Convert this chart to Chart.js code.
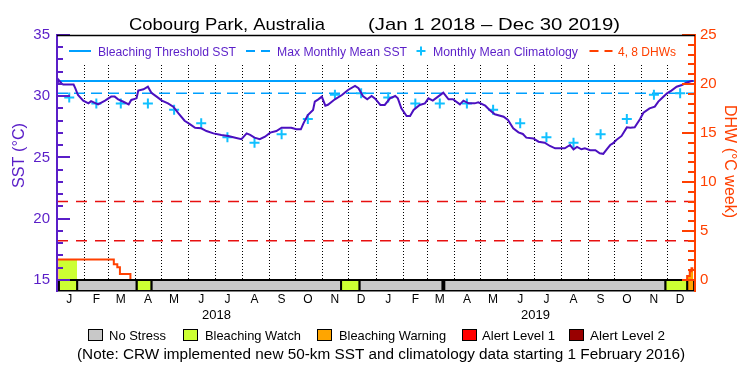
<!DOCTYPE html>
<html>
<head>
<meta charset="utf-8">
<script src="https://cdn.jsdelivr.net/npm/chart.js@4.4.0/dist/chart.umd.min.js"></script>
<style>
  html, body { margin: 0; padding: 0; background: #fff; }
  #wrap { width: 750px; height: 375px; }
</style>
</head>
<body>
<div id="wrap"><canvas id="chart" width="750" height="375"></canvas></div>
<script>
// x values are days counted from Jan 1 2018
const sstSeries = [
  [0, 31.1], [1, 31.4], [5, 31.06], [7, 30.96], [19, 30.96], [21, 30.65], [24, 30.1], [30, 29.64],
  [36, 29.42], [39, 29.6], [42, 29.5], [47, 29.34], [55, 29.64], [62, 29.97], [66, 29.97], [70, 29.75],
  [76, 29.55], [82, 29.34], [85, 29.7], [91, 29.83], [93, 30.46], [99, 30.57], [104, 30.78], [108, 30.29],
  [114, 29.97], [120, 29.64], [127, 29.42], [133, 29.15], [139, 28.6], [146, 28.0], [152, 27.73], [158, 27.43],
  [165, 27.38], [171, 27.16], [179, 26.97], [188, 26.84], [196, 26.76], [204, 26.62], [211, 26.49], [217, 26.97],
  [221, 26.84], [226, 26.62], [232, 26.49], [238, 26.7], [244, 27.03], [251, 27.16], [257, 27.43], [268, 27.43],
  [274, 27.3], [279, 27.3], [282, 27.79], [287, 28.47], [293, 28.88], [295, 29.56], [299, 29.75], [303, 29.97],
  [307, 29.23], [310, 29.3], [318, 29.75], [326, 30.1], [333, 30.51], [341, 30.84], [345, 30.65], [350, 30.02],
  [355, 29.75], [360, 30.02], [364, 29.8], [370, 29.29], [375, 29.29], [381, 29.83], [387, 30.02], [390, 29.83],
  [394, 29.01], [400, 28.39], [404, 28.39], [408, 28.88], [415, 29.29], [421, 29.42], [425, 29.83], [430, 29.64],
  [436, 29.97], [442, 30.29], [448, 29.75], [453, 29.75], [461, 29.34], [465, 29.64], [471, 29.42], [478, 29.42],
  [482, 29.5], [490, 29.23], [495, 28.88], [501, 28.53], [511, 28.33], [516, 28.06], [522, 27.38], [528, 27.05],
  [533, 26.92], [537, 26.62], [545, 26.55], [551, 26.29], [558, 26.21], [564, 25.94], [570, 25.75], [581, 25.75],
  [587, 26.02], [591, 25.67], [595, 25.86], [600, 25.67], [604, 25.75], [610, 25.6], [616, 25.6], [621, 25.34],
  [625, 25.3], [629, 25.67], [633, 26.02], [636, 26.15], [640, 26.43], [646, 26.76], [652, 27.46], [656, 27.43],
  [661, 27.46], [667, 28.12], [671, 28.66], [678, 29.01], [684, 29.15], [688, 29.56], [692, 29.83], [698, 30.24],
  [703, 30.46], [709, 30.78], [715, 30.92], [720, 31.1], [726, 31.24], [728, 31.24]
];

// monthly mean climatology, Jan..Dec (same both years)
const climValues = [29.9, 29.4, 29.4, 29.4, 28.9, 27.8, 26.65, 26.2, 26.9, 28.15, 30.13, 30.24];
const mmmValue = 30.25;
const thresholdValue = 31.25;

const dhwDays = [0, 65, 69, 72, 84, 721, 724, 726, 728];
const dhwValues = [2.1, 1.6, 1.3, 0.6, 0, 0.4, 0.9, 1.2, 1.2];
const dhwLevels = [4, 8];

// alert status strip: 0 no stress, 1 watch, 2 warning, 3 alert 1, 4 alert 2
const statusStart = [0, 2, 23, 91, 108, 325, 346, 441, 443, 696, 721];
const statusEnd = [2, 23, 91, 108, 325, 346, 441, 443, 696, 721, 729];
const statusLevel = [2, 1, 0, 1, 0, 1, 0, 1, 0, 1, 2];
const statusNames = ['No Stress', 'Bleaching Watch', 'Bleaching Warning', 'Alert Level 1', 'Alert Level 2'];

const monthStarts = [0, 31, 59, 90, 120, 151, 181, 212, 243, 273, 304, 334,
  365, 396, 424, 455, 485, 516, 546, 577, 608, 638, 669, 699, 730];
const monthLetters = ['J', 'F', 'M', 'A', 'M', 'J', 'J', 'A', 'S', 'O', 'N', 'D'];
const yearLabels = ['2018', '2019'];
const sstTicks = [15, 20, 25, 30, 35];
const dhwTicks = [0, 5, 10, 15, 20, 25];

const PURPLE = '#5a1ec8';
const LINE_PURPLE = '#4b10c0';
const BLUE = '#00a0ff';
const CROSS = '#10c0ff';
const ORANGE = '#ff4000';
const DHW_RED = '#e81010';
const STATUS_COLORS = ['#c8c8c8', '#ccff33', '#ffa500', '#ff0000', '#990000'];
const FONT = '"Liberation Sans", Arial, sans-serif';

const X_MAX = 730;
const Y_MIN = 14.102;
const Y2_MIN = -1.1224;

function dhwAt(day) {
  let v = 0;
  for (let i = 0; i < dhwDays.length; i++) if (dhwDays[i] <= day) v = dhwValues[i];
  return v;
}

const monthMid = monthStarts.slice(0, 24).map((d) => d + 14);
const yearMid = [0, 1].map((k) => (monthStarts[k * 12] + monthStarts[k * 12 + 12]) / 2);

// status strip rectangles
const stripSets = statusStart.map((s, i) => ({
  data: [{ x: s, y: Y_MIN }, { x: s, y: 15 }, { x: statusEnd[i], y: 15 }, { x: statusEnd[i], y: Y_MIN }],
  borderColor: '#000',
  borderWidth: 2,
  backgroundColor: STATUS_COLORS[statusLevel[i]],
  fill: { value: Y_MIN },
  pointRadius: 0,
}));

// DHW area coloured by alert status
const dhwLastDay = dhwDays[dhwDays.length - 1];
const dhwFillSets = [];
statusStart.forEach((s, i) => {
  if (statusLevel[i] === 0) return;
  const e = Math.min(statusEnd[i], dhwLastDay);
  const pts = [{ x: s, y: dhwAt(s) }];
  dhwDays.forEach((d, k) => { if (d > s && d < e) pts.push({ x: d, y: dhwValues[k] }); });
  pts.push({ x: e, y: dhwAt(e) });
  if (pts.every((p) => p.y === 0)) return;
  dhwFillSets.push({
    data: pts,
    yAxisID: 'y2',
    stepped: true,
    borderWidth: 0,
    backgroundColor: STATUS_COLORS[statusLevel[i]],
    fill: { value: 0 },
    pointRadius: 0,
  });
});

const climPoints = [];
for (let k = 0; k < 24; k++) climPoints.push({ x: monthMid[k], y: climValues[k % 12] });

const datasets = [
  ...stripSets,
  {
    label: 'SST',
    data: sstSeries.map(([d, v]) => ({ x: d, y: v })),
    borderColor: LINE_PURPLE,
    borderWidth: 2,
    pointRadius: 0,
    fill: false,
  },
  {
    label: 'Monthly Mean Climatology',
    data: climPoints,
    showLine: false,
    pointStyle: 'cross',
    pointRadius: 5,
    pointBorderWidth: 2,
    pointBorderColor: CROSS,
    borderColor: CROSS,
  },
  {
    label: 'Bleaching Threshold SST',
    data: [{ x: 0, y: thresholdValue }, { x: X_MAX, y: thresholdValue }],
    borderColor: BLUE,
    borderWidth: 2,
    pointRadius: 0,
  },
  {
    label: 'Max Monthly Mean SST',
    data: [{ x: 0, y: mmmValue }, { x: X_MAX, y: mmmValue }],
    borderColor: BLUE,
    borderWidth: 1.5,
    borderDash: [11, 6],
    pointRadius: 0,
  },
  {
    label: 'DHW',
    data: dhwDays.map((d, i) => ({ x: d, y: dhwValues[i] })),
    yAxisID: 'y2',
    stepped: true,
    borderColor: ORANGE,
    borderWidth: 2,
    pointRadius: 0,
  },
  ...dhwFillSets,
  ...dhwLevels.map((lv) => ({
    label: lv + ' DHW',
    data: [{ x: 0, y: lv }, { x: X_MAX, y: lv }],
    yAxisID: 'y2',
    borderColor: DHW_RED,
    borderWidth: 1.5,
    borderDash: [11, 8],
    pointRadius: 0,
  })),
];

function fitText(ctx, str, x, y, w, size, color) {
  ctx.save();
  ctx.font = size + 'px ' + FONT;
  ctx.fillStyle = color;
  ctx.textBaseline = 'alphabetic';
  ctx.textAlign = 'left';
  const m = ctx.measureText(str).width;
  ctx.translate(x, y);
  ctx.scale(w / m, 1);
  ctx.fillText(str, 0, 0);
  ctx.restore();
}

function rotText(ctx, str, cx, cy, len, size, color, angle) {
  ctx.save();
  ctx.font = size + 'px ' + FONT;
  ctx.fillStyle = color;
  ctx.textBaseline = 'alphabetic';
  const m = ctx.measureText(str).width;
  ctx.translate(cx, cy);
  ctx.rotate(angle);
  ctx.scale(len / m, 1);
  ctx.fillText(str, -m / 2, size * 0.36);
  ctx.restore();
}

function hLine(ctx, x1, x2, y, color, width, dash) {
  ctx.save();
  ctx.strokeStyle = color;
  ctx.lineWidth = width;
  ctx.setLineDash(dash || []);
  ctx.beginPath();
  ctx.moveTo(x1, y);
  ctx.lineTo(x2, y);
  ctx.stroke();
  ctx.restore();
}

const decorations = {
  id: 'decorations',
  beforeDatasetsDraw(chart) {
    // the legend box covers the top of the dotted month lines
    const { ctx, chartArea: a } = chart;
    ctx.save();
    ctx.fillStyle = '#fff';
    ctx.fillRect(a.left + 1, a.top + 1, a.right - a.left - 2, 27);
    ctx.restore();
  },
  afterDraw(chart) {
    const { ctx, chartArea: a, scales } = chart;

    // inward tick marks
    ctx.save();
    ctx.lineWidth = 2;
    ctx.strokeStyle = PURPLE;
    for (let v = 15; v <= 35; v++) {
      const py = Math.round(scales.y.getPixelForValue(v));
      const len = v % 5 === 0 ? 13 : 6;
      ctx.beginPath();
      ctx.moveTo(a.left, py);
      ctx.lineTo(a.left + len, py);
      ctx.stroke();
    }
    ctx.strokeStyle = ORANGE;
    for (let v = 0; v <= 25; v++) {
      const py = Math.round(scales.y2.getPixelForValue(v));
      const len = v % 5 === 0 ? 13 : 7;
      ctx.beginPath();
      ctx.moveTo(a.right, py);
      ctx.lineTo(a.right - len, py);
      ctx.stroke();
    }
    ctx.restore();

    // top frame
    hLine(ctx, a.left, a.right, a.top + 0.5, '#000', 1.5);

    // title
    fitText(ctx, 'Cobourg Park, Australia', 129, 30, 196, 17, '#000');
    fitText(ctx, '(Jan 1 2018 \u2013 Dec 30 2019)', 368, 30, 252, 17, '#000');

    // legend inside the plot
    const ly = 51;
    hLine(ctx, 69, 91, ly, BLUE, 2);
    fitText(ctx, 'Bleaching Threshold SST', 98, 55.5, 138, 12, PURPLE);
    hLine(ctx, 246, 270, ly, BLUE, 2, [9, 6]);
    fitText(ctx, 'Max Monthly Mean SST', 277, 55.5, 130, 12, PURPLE);
    hLine(ctx, 416.5, 425.5, ly, CROSS, 2);
    ctx.save();
    ctx.strokeStyle = CROSS;
    ctx.lineWidth = 2;
    ctx.beginPath();
    ctx.moveTo(421, ly - 4.5);
    ctx.lineTo(421, ly + 4.5);
    ctx.stroke();
    ctx.restore();
    fitText(ctx, 'Monthly Mean Climatology', 433, 55.5, 145, 12, PURPLE);
    hLine(ctx, 589.5, 612.5, ly, ORANGE, 2, [9, 6]);
    fitText(ctx, '4, 8 DHWs', 618, 55.5, 58, 12, ORANGE);

    // axis titles
    rotText(ctx, 'SST (\u00b0C)', 18, 155.5, 65, 17, PURPLE, -Math.PI / 2);
    rotText(ctx, 'DHW (\u00b0C week)', 731.5, 161.5, 113, 17, ORANGE, Math.PI / 2);

    // status legend
    const boxX = [88, 183, 317, 462, 569];
    const textX = [109, 205, 339, 482, 590];
    const textW = [57, 96, 107, 73, 75];
    statusNames.forEach((name, i) => {
      ctx.save();
      ctx.fillStyle = STATUS_COLORS[i];
      ctx.fillRect(boxX[i], 329, 14, 11);
      ctx.strokeStyle = '#000';
      ctx.lineWidth = 1;
      ctx.strokeRect(boxX[i] + 0.5, 329.5, 14, 11);
      ctx.restore();
      fitText(ctx, name, textX[i], 340, textW[i], 13, '#000');
    });
    fitText(ctx, '(Note: CRW implemented new 50-km SST and climatology data starting 1 February 2016)',
      77, 359, 608, 14, '#000');
  },
};

new Chart(document.getElementById('chart'), {
  type: 'line',
  data: { datasets },
  options: {
    responsive: false,
    animation: false,
    events: [],
    layout: { padding: { top: 35, bottom: 51, left: 0, right: 0 } },
    plugins: { legend: { display: false }, tooltip: { enabled: false }, title: { display: false } },
    scales: {
      x: {
        type: 'linear', position: 'bottom', min: 0, max: X_MAX, weight: 0,
        afterBuildTicks: (s) => { s.ticks = monthStarts.map((v) => ({ value: v })); },
        afterFit: (s) => { s.height = 0; },
        ticks: { display: false },
        grid: { color: '#000', lineWidth: 1, drawTicks: false },
        border: { display: false, dash: [1, 2] },
      },
      xm: {
        type: 'linear', position: 'bottom', min: 0, max: X_MAX, weight: 1,
        afterBuildTicks: (s) => { s.ticks = monthMid.map((v) => ({ value: v })); },
        afterFit: (s) => { s.height = 17; },
        ticks: {
          autoSkip: false, maxRotation: 0, padding: 1, color: '#000',
          font: { family: FONT, size: 12 },
          callback: (v, i) => monthLetters[i % 12],
        },
        grid: { display: false, drawTicks: false },
        border: { display: true, color: '#000', width: 1.5, z: 1 },
      },
      xy: {
        type: 'linear', position: 'bottom', min: 0, max: X_MAX, weight: 2,
        afterBuildTicks: (s) => { s.ticks = yearMid.map((v) => ({ value: v })); },
        afterFit: (s) => { s.height = 16; },
        ticks: {
          autoSkip: false, maxRotation: 0, padding: 0, color: '#000',
          font: { family: FONT, size: 13 },
          callback: (v, i) => yearLabels[i],
        },
        grid: { display: false, drawTicks: false },
        border: { display: false },
      },
      y: {
        type: 'linear', position: 'left', min: Y_MIN, max: 35,
        afterBuildTicks: (s) => { s.ticks = sstTicks.map((v) => ({ value: v })); },
        afterFit: (s) => { s.width = 57; },
        ticks: { color: PURPLE, padding: 7, font: { family: FONT, size: 15 } },
        grid: { display: false, drawTicks: false },
        border: { display: true, color: PURPLE, width: 2, z: 1 },
      },
      y2: {
        type: 'linear', position: 'right', min: Y2_MIN, max: 25,
        afterBuildTicks: (s) => { s.ticks = dhwTicks.map((v) => ({ value: v })); },
        afterFit: (s) => { s.width = 55; },
        ticks: { color: ORANGE, padding: 5, font: { family: FONT, size: 15 } },
        grid: { display: false, drawTicks: false },
        border: { display: true, color: ORANGE, width: 2, z: 1 },
      },
    },
  },
  plugins: [decorations],
});
</script>
</body>
</html>
